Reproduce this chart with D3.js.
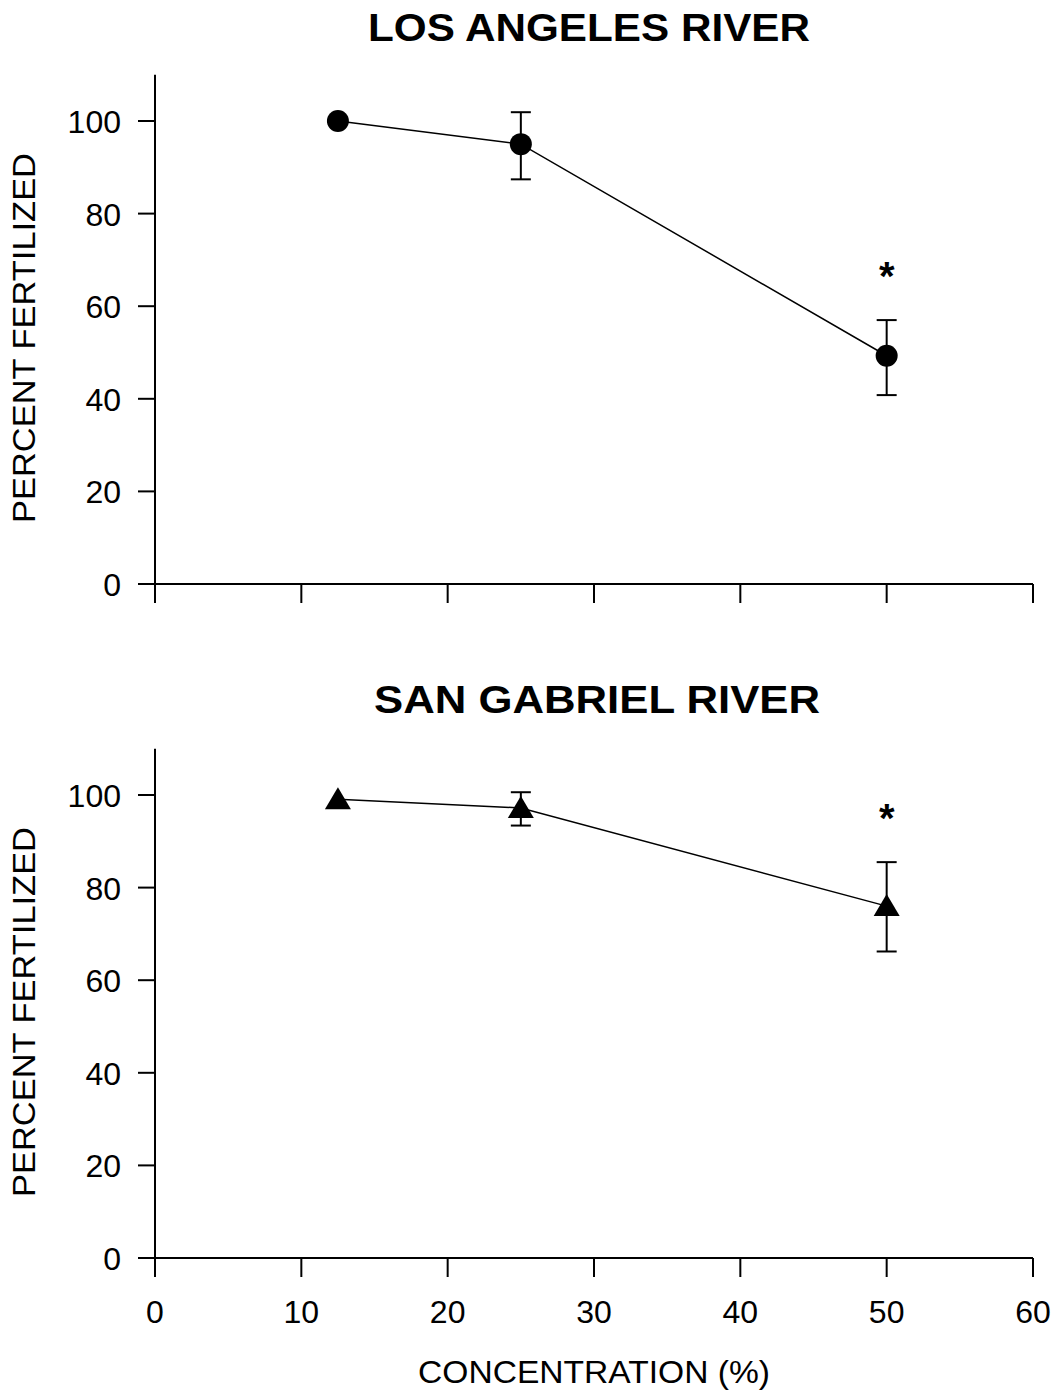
<!DOCTYPE html>
<html>
<head>
<meta charset="utf-8">
<script src="https://cdn.jsdelivr.net/npm/d3@7"></script>
<style>
  body { margin:0; background:#fff; }
  svg text { font-family: "Liberation Sans", Arial, sans-serif; fill:#000; }
</style>
</head>
<body>
<svg id="chart" width="1056" height="1393"></svg>
<script>
// data
var concentration = [12.5, 25, 50];
var laMean = [100, 95, 49.3];
var laLow  = [100, 87.4, 40.8];
var laHigh = [100, 101.9, 57.0];
var sgMean = [99.1, 97.2, 76.0];
var sgLow  = [99.1, 93.4, 66.2];
var sgHigh = [99.1, 100.6, 85.5];
var laSig = [false, false, true];
var sgSig = [false, false, true];
var xTicks = [0, 10, 20, 30, 40, 50, 60];
var yTicks = [0, 20, 40, 60, 80, 100];

var svg = d3.select("#chart");
var x = d3.scaleLinear().domain([0, 60]).range([155, 1033]);

function panel(top, title, titleX, titleY, titleW, mean, low, high, sig, marker, showXLabels){
  // y(0) at top+509 , y(100) at top+46
  var y = d3.scaleLinear().domain([0, 100]).range([top + 509, top + 46]);
  var g = svg.append("g");

  g.append("text").attr("x", titleX).attr("y", titleY)
    .attr("text-anchor", "middle").attr("font-size", 38).attr("font-weight", "bold")
    .attr("textLength", titleW).attr("lengthAdjust", "spacingAndGlyphs")
    .text(title);

  // y axis
  g.append("line").attr("x1", 155).attr("x2", 155)
    .attr("y1", y(110)).attr("y2", y(0))
    .attr("stroke", "#000").attr("stroke-width", 2);
  g.selectAll(".ytick").data(yTicks).enter().append("line")
    .attr("x1", 138).attr("x2", 155)
    .attr("y1", d => y(d)).attr("y2", d => y(d))
    .attr("stroke", "#000").attr("stroke-width", 2);
  g.selectAll(".ylab").data(yTicks).enter().append("text")
    .attr("x", 121).attr("y", d => y(d) + 12)
    .attr("text-anchor", "end").attr("font-size", 32)
    .text(d => d);

  // x axis
  g.append("line").attr("x1", 155).attr("x2", 1033)
    .attr("y1", y(0)).attr("y2", y(0))
    .attr("stroke", "#000").attr("stroke-width", 2);
  g.selectAll(".xtick").data(xTicks).enter().append("line")
    .attr("x1", d => x(d)).attr("x2", d => x(d))
    .attr("y1", y(0)).attr("y2", y(0) + 19)
    .attr("stroke", "#000").attr("stroke-width", 2);
  if(showXLabels){
    g.selectAll(".xlab").data(xTicks).enter().append("text")
      .attr("x", d => x(d)).attr("y", y(0) + 65)
      .attr("text-anchor", "middle").attr("font-size", 32)
      .text(d => d);
  }

  // y label
  g.append("text")
    .attr("transform", `translate(35 ${top + 263}) rotate(-90)`)
    .attr("text-anchor", "middle").attr("font-size", 31)
    .attr("textLength", 370).attr("lengthAdjust", "spacingAndGlyphs")
    .text("PERCENT FERTILIZED");

  var pts = concentration.map((c, i) => ({c: c, m: mean[i], lo: low[i], hi: high[i], s: sig[i]}));

  // line
  g.append("path").datum(pts)
    .attr("d", d3.line().x(d => x(d.c)).y(d => y(d.m)))
    .attr("fill", "none").attr("stroke", "#000").attr("stroke-width", 1.5);

  // error bars
  var eb = g.selectAll(".err").data(pts.filter(d => d.hi > d.lo)).enter().append("g");
  eb.append("line").attr("x1", d => x(d.c)).attr("x2", d => x(d.c))
    .attr("y1", d => y(d.hi)).attr("y2", d => y(d.lo))
    .attr("stroke", "#000").attr("stroke-width", 2);
  eb.append("line").attr("x1", d => x(d.c) - 10).attr("x2", d => x(d.c) + 10)
    .attr("y1", d => y(d.hi)).attr("y2", d => y(d.hi))
    .attr("stroke", "#000").attr("stroke-width", 2);
  eb.append("line").attr("x1", d => x(d.c) - 10).attr("x2", d => x(d.c) + 10)
    .attr("y1", d => y(d.lo)).attr("y2", d => y(d.lo))
    .attr("stroke", "#000").attr("stroke-width", 2);

  // markers
  if(marker === "circle"){
    g.selectAll(".mk").data(pts).enter().append("circle")
      .attr("cx", d => x(d.c)).attr("cy", d => y(d.m)).attr("r", 11)
      .attr("fill", "#000");
  } else {
    g.selectAll(".mk").data(pts).enter().append("path")
      .attr("transform", d => `translate(${x(d.c)} ${y(d.m)})`)
      .attr("d", "M0,-12 L13,10 L-13,10 Z")
      .attr("fill", "#000");
  }

  // significance
  g.selectAll(".sig").data(pts.filter(d => d.s)).enter().append("text")
    .attr("x", d => x(d.c)).attr("y", d => y(d.hi) - 30)
    .attr("text-anchor", "middle").attr("font-size", 40).attr("font-weight", "bold")
    .text("*");
}

panel(75, "LOS ANGELES RIVER", 589, 41, 442, laMean, laLow, laHigh, laSig, "circle", false);
panel(749, "SAN GABRIEL RIVER", 597, 713, 446, sgMean, sgLow, sgHigh, sgSig, "triangle", true);

svg.append("text").attr("x", 594).attr("y", 1383)
  .attr("text-anchor", "middle").attr("font-size", 31)
  .attr("textLength", 352).attr("lengthAdjust", "spacingAndGlyphs")
  .text("CONCENTRATION (%)");
</script>
</body>
</html>
